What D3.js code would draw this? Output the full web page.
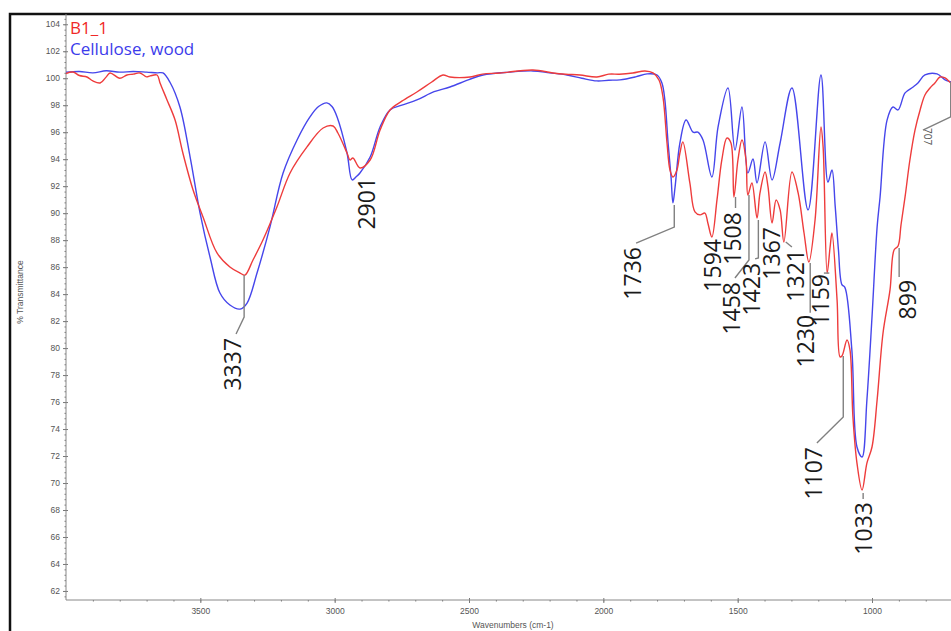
<!DOCTYPE html>
<html><head><meta charset="utf-8">
<script src="https://cdn.jsdelivr.net/npm/d3@7"></script>
<style>html,body{margin:0;padding:0;background:#fff;overflow:hidden}</style>
</head><body>
<svg id="chart" width="951" height="631"></svg>
<script>
// ---- data ----
const seriesNames = ["B1_1", "Cellulose, wood"];

const redWn = [4000,3974,3950,3922,3900,3873,3850,3836,3800,3773,3750,3725,3700,3687,3661,3650,3624,3594,3565,3527,3490,3438,3390,3352,3334,3304,3267,3215,3166,3103,3043,3006,2988,2954,2943,2932,2906,2868,2831,2794,2750,2694,2640,2597,2571,2496,2450,2385,2262,2187,2140,2087,2024,1980,1940,1890,1845,1815,1793,1778,1763,1752,1741,1726,1715,1704,1678,1659,1640,1622,1611,1596,1577,1559,1540,1525,1514,1499,1484,1469,1462,1447,1428,1417,1398,1387,1372,1357,1342,1328,1298,1275,1253,1235,1212,1190,1182,1167,1156,1149,1130,1119,1112,1093,1082,1071,1056,1037,1019,1000,981,959,933,918,903,892,877,859,840,821,803,784,766,747,728,706,690];
const redT  = [100.35,100.46,100.2,100.09,99.8,99.65,100.1,100.39,100.0,100.24,100.3,100.39,100.1,100.17,100.24,99.65,98.39,96.9,94.46,91.72,89.72,87.05,86.01,85.56,85.41,86.53,88.01,90.46,92.98,94.91,96.31,96.46,95.94,94.46,93.94,94.09,93.35,93.94,96.16,97.65,98.3,98.98,99.7,100.24,100.09,100.09,100.3,100.39,100.61,100.39,100.3,100.24,100.09,100.3,100.3,100.39,100.54,100.39,99.87,98.6,95.2,93.2,92.68,93.2,94.46,95.28,92.24,90.09,89.87,90.01,89.27,88.23,90.98,93.94,95.57,95.2,91.2,93.94,95.42,93.94,91.35,92.24,89.64,91.5,93.05,91.94,89.27,90.98,90.24,87.86,93.05,91.5,88.53,86.38,89.49,96.38,94.9,85.56,87.49,88.53,83.56,79.35,79.41,80.6,79.86,74.89,71.48,69.48,71.48,72.67,76.15,81.12,84.31,87.27,87.57,89.14,91.2,93.94,96.16,97.65,98.76,99.28,99.65,100.09,100.02,99.65,99.5];

const blueWn = [4000,3950,3900,3850,3800,3750,3700,3660,3639,3613,3576,3538,3501,3464,3427,3390,3352,3326,3289,3241,3192,3140,3092,3060,3029,3010,2991,2954,2935,2920,2906,2868,2831,2794,2750,2694,2630,2571,2500,2448,2350,2262,2200,2135,2080,2024,1980,1938,1880,1837,1800,1782,1771,1759,1748,1741,1733,1715,1692,1666,1648,1629,1596,1573,1536,1510,1484,1462,1443,1428,1398,1372,1342,1298,1238,1190,1164,1149,1137,1125,1112,1101,1075,1056,1037,1019,1000,981,970,944,922,903,877,847,829,803,758,728,706,690];
const blueT  = [100.45,100.5,100.4,100.55,100.45,100.5,100.45,100.4,100.39,99.7,97.87,94.16,90.01,86.75,84.08,83.19,82.89,83.34,85.56,88.97,92.97,95.42,97.13,97.9,98.17,97.9,97.13,94.46,92.46,92.7,92.98,94.16,96.39,97.65,98.0,98.39,99.0,99.35,99.9,100.24,100.45,100.54,100.4,100.24,100.0,99.8,99.85,99.88,100.1,100.32,100.24,99.65,98.39,95.2,92.68,90.76,91.94,95.2,96.9,96.0,96.0,95.42,92.68,96.39,99.28,94.68,97.87,92.98,94.01,92.24,95.28,92.46,95.2,99.28,90.24,100.24,92.3,93.2,90.5,87.3,84.7,84.5,79.86,72.67,71.93,76.15,82.3,88.97,91.2,96.9,97.87,97.65,98.91,99.35,99.65,100.24,100.32,99.87,99.72,99.6];

const yTickValues = [62,64,66,68,70,72,74,76,78,80,82,84,86,88,90,92,94,96,98,100,102,104];
const xTickValues = [3500,3000,2500,2000,1500,1000];

const annoLabels  = ["3337","2901","1736","1594","1508","1458","1423","1367","1321","1230","1159","1107","1033","899"];
const annoWn      = [3337,2901,1736,1594,1508,1458,1423,1367,1321,1230,1159,1107,1033,899];
const annoT0      = [85.41,93.35,90.61,88.23,91.20,91.35,89.49,89.27,87.86,86.31,85.56,79.41,69.26,87.42];
const annoT1      = [82.30,93.35,88.97,88.23,90.38,86.53,86.68,89.27,87.86,82.61,85.56,74.89,68.82,85.27];
const annoLabelWn = [3382,2883,1893,1594,1521,1525,1450,1376,1287,1249,1194,1220,1033,870];
const annoLabelT  = [80.75,92.68,87.49,88.08,90.08,84.90,86.31,88.97,87.34,82.46,85.49,72.67,68.59,85.05];

const smallLabel = "707", smallWn = 707, smallT0 = 99.72, smallT1 = 97.13, smallLabelWn = 792, smallLabelT = 96.31;

// ---- drawing ----
const svg = d3.select("#chart");
const W = 951, H = 631;
const x = d3.scaleLinear().domain([4000, 400]).range([66, 66 + 3600 * 0.26867]);
const y = d3.scaleLinear().domain([61.33, 104.76]).range([600, 14]);

// frame
svg.append("rect").attr("x", 10).attr("y", 14).attr("width", 1000).attr("height", 700)
  .attr("fill", "none").attr("stroke", "#111").attr("stroke-width", 2.5);

svg.append("defs").append("clipPath").attr("id", "plot")
  .append("rect").attr("x", 66).attr("y", 14).attr("width", W - 66).attr("height", 586);

const gray = "#888";
// y axis
const gy = svg.append("g").attr("transform", "translate(66,0)");
gy.call(d3.axisLeft(y).tickValues(d3.range(61.6, 104.7, 0.4)).tickSize(1.5).tickFormat(""));
gy.call(g => g.selectAll(".domain").remove());
const gyMaj = svg.append("g").attr("transform", "translate(66,0)")
  .call(d3.axisLeft(y).tickValues(yTickValues).tickSize(3).tickPadding(3).tickFormat(d3.format("d")));
gyMaj.select(".domain").remove();
const gyMaj2 = svg.append("g").attr("transform", "translate(66,0)")
  .call(d3.axisRight(y).tickValues(yTickValues).tickSize(2).tickFormat(""));
gyMaj2.select(".domain").remove();

// x axis
const gx = svg.append("g").attr("transform", "translate(0,600)");
gx.call(d3.axisBottom(x).tickValues(d3.range(3900, 699, -100)).tickSize(1.5).tickFormat(""));
gx.select(".domain").remove();
const gxMaj = svg.append("g").attr("transform", "translate(0,600)")
  .call(d3.axisBottom(x).tickValues(xTickValues).tickSize(3).tickPadding(5).tickFormat(d3.format("d")));
gxMaj.select(".domain").remove();
const gxMaj2 = svg.append("g").attr("transform", "translate(0,600)")
  .call(d3.axisTop(x).tickValues(xTickValues).tickSize(2).tickFormat(""));
gxMaj2.select(".domain").remove();

svg.selectAll(".tick line").attr("stroke", "#777");
svg.selectAll(".tick text").attr("fill", "#555").attr("font-size", "8.5px")
  .attr("font-family", "'Liberation Sans', Arial, sans-serif");

svg.append("line").attr("x1", 66).attr("x2", 66).attr("y1", 14).attr("y2", 600)
  .attr("stroke", gray).attr("stroke-width", 1);
svg.append("line").attr("x1", 66).attr("x2", W).attr("y1", 600).attr("y2", 600)
  .attr("stroke", gray).attr("stroke-width", 1);

svg.append("text").attr("x", 513).attr("y", 628).attr("text-anchor", "middle")
  .attr("font-family", "'Liberation Sans', Arial, sans-serif").attr("font-size", "8.5px")
  .attr("fill", "#555").text("Wavenumbers (cm-1)");
svg.append("text").attr("transform", "translate(23,292) rotate(-90)").attr("text-anchor", "middle")
  .attr("font-family", "'Liberation Sans', Arial, sans-serif").attr("font-size", "8.5px")
  .attr("fill", "#555").text("% Transmittance");

// curves
const line = d3.line().x(d => x(d[0])).y(d => y(d[1])).curve(d3.curveCatmullRom.alpha(0.5));
const plot = svg.append("g").attr("clip-path", "url(#plot)");
plot.append("path").datum(blueWn.map((w, i) => [w, blueT[i]]))
  .attr("d", line).attr("fill", "none").attr("stroke", "rgb(70,70,235)").attr("stroke-width", 1.4);
plot.append("path").datum(redWn.map((w, i) => [w, redT[i]]))
  .attr("d", line).attr("fill", "none").attr("stroke", "rgb(238,60,60)").attr("stroke-width", 1.4);

// annotations
const ag = svg.append("g");
annoLabels.forEach((lab, i) => {
  const px = x(annoWn[i]), p0 = y(annoT0[i]), p1 = y(annoT1[i]);
  const lx = x(annoLabelWn[i]), ly = y(annoLabelT[i]);
  const pts = [[px, p0], [px, p1]];
  if (lx < px - 6) pts.push([lx + 4, Math.max(ly - 4, p1)]);
  else if (annoT0[i] === annoT1[i] && lx > px + 5) pts.push([lx - 3, ly - 2]);
  if (Math.hypot(pts[pts.length-1][0] - px, pts[pts.length-1][1] - p0) > 1) {
    ag.append("path").attr("d", d3.line()(pts)).attr("fill", "none")
      .attr("stroke", "#808080").attr("stroke-width", 1.4);
  }
  ag.append("text").attr("transform", `translate(${lx},${ly}) rotate(-90)`)
    .attr("text-anchor", "end").attr("dominant-baseline", "central")
    .attr("font-family", "'Open Sans', sans-serif").attr("font-size", "23px")
    .attr("fill", "#1a1a1a").text(lab);
});
{
  const px = x(smallWn), lx = x(smallLabelWn), ly = y(smallLabelT);
  ag.append("path").attr("d", d3.line()([[px, y(smallT0)], [px, y(smallT1)], [lx - 5, ly + 2]]))
    .attr("fill", "none").attr("stroke", "#808080").attr("stroke-width", 1.4);
  ag.append("text").attr("transform", `translate(${lx},${ly}) rotate(90)`)
    .attr("text-anchor", "start").attr("dominant-baseline", "central")
    .attr("font-family", "'Open Sans', sans-serif").attr("font-size", "10px")
    .attr("fill", "#555").text(smallLabel);
}

// legend
svg.append("text").attr("x", 70).attr("y", 33.5).attr("font-family", "'Open Sans', sans-serif")
  .attr("font-size", "17px").attr("fill", "rgb(240,40,40)").text(seriesNames[0]);
svg.append("text").attr("x", 70).attr("y", 54.5).attr("font-family", "'Open Sans', sans-serif")
  .attr("font-size", "17px").attr("fill", "rgb(60,60,235)").text(seriesNames[1]);
</script>
</body></html>
